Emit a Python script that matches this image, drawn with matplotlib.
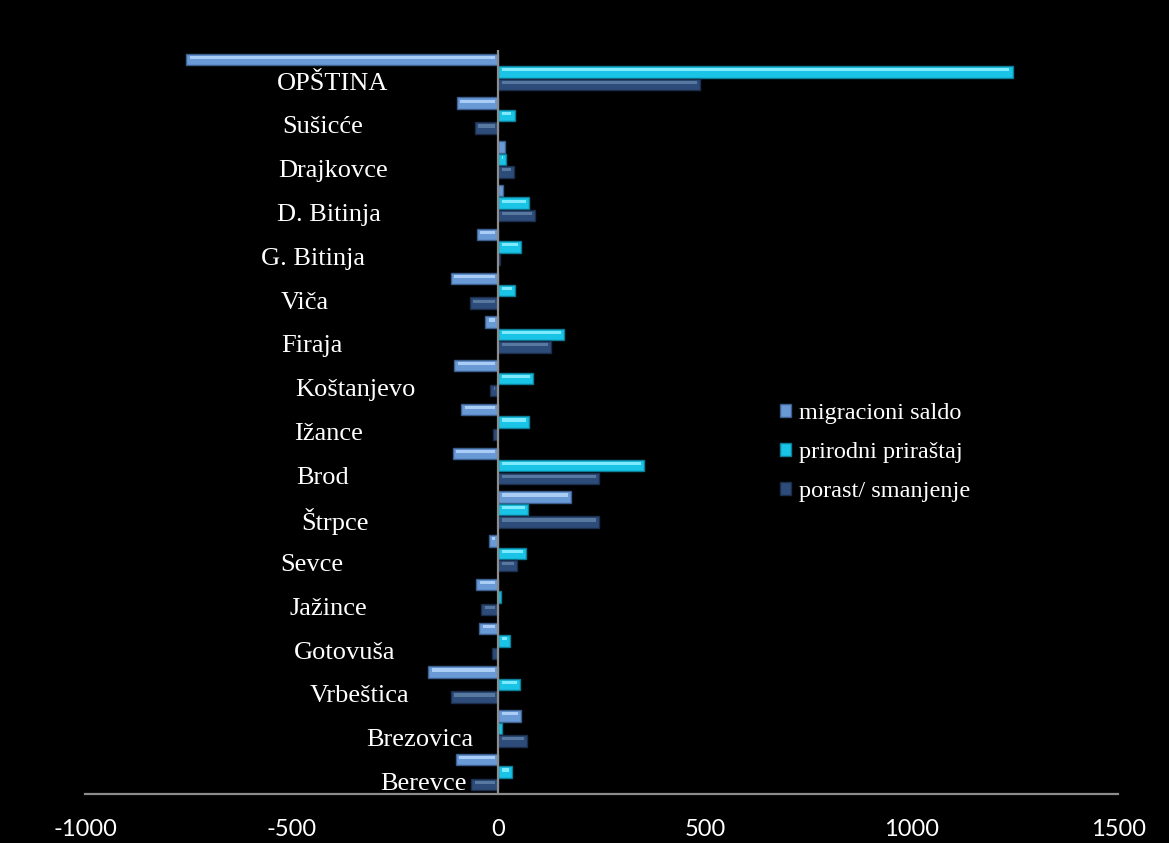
import matplotlib
matplotlib.use("Agg")
import matplotlib.pyplot as plt
from matplotlib.patches import Patch
import numpy as np

categories = ["Berevce", "Brezovica", "Vrbeštica", "Gotovuša", "Jažince", "Sevce",
              "Štrpce", "Brod", "Ižance", "Koštanjevo", "Firaja", "Viča",
              "G. Bitinja", "D. Bitinja", "Drajkovce", "Sušicće", "OPŠTINA"]
migracioni_saldo = [-102, 56, -169, -46, -53, -22, 176, -109, -89, -106, -31, -114, -51, 12, 17, -100, -755]
prirodni_prirastaj = [34, 10, 53, 29, 7, 68, 73, 353, 75, 85, 160, 41, 56, 75, 19, 40, 1245]
porast_smanjenje = [-65, 70, -114, -15, -41, 46, 245, 244, -12, -19, 128, -68, 5, 89, 38, -56, 489]
series_names = ["migracioni saldo", "prirodni priraštaj", "porast/ smanjenje"]
xticks = [-1000, -500, 0, 500, 1000, 1500]

# label placement (data x of label centre)
label_x = [-180, -190, -335, -372, -410, -450, -395, -425, -410, -345, -450, -467, -447, -410, -400, -425, -400]

colors = ["#6a9ad6", "#19c4e6", "#2d4c7a"]
highlights = ["#a9cdf5", "#7eeaff", "#58799f"]
edges = ["#3c5f8f", "#0b7f99", "#1a2d4a"]

fig = plt.figure(figsize=(11.69, 8.43), dpi=100, facecolor="black")
ax = fig.add_axes([0.0727, 0.0581, 0.8837, 0.8826], facecolor="black")

y = np.arange(len(categories))
off = 0.285
h = 0.26
for i, (vals, c, hl, ec) in enumerate(zip([migracioni_saldo, prirodni_prirastaj, porast_smanjenje],
                                          colors, highlights, edges)):
    pos = y + off * (1 - i)
    ax.barh(pos, vals, height=h, color=c, edgecolor=ec, linewidth=1.0, zorder=2)
    vals_arr = np.array(vals, dtype=float)
    inset = np.sign(vals_arr) * np.minimum(np.abs(vals_arr) * 0.5, 8)
    ax.barh(pos + h * 0.18, vals_arr - 2 * inset, left=inset, height=h * 0.28,
            color=hl, linewidth=0, zorder=3)

for yi, (name, lx) in enumerate(zip(categories, label_x)):
    ax.text(lx, yi - 0.27, name, color="white", fontsize=19, family="Liberation Serif",
            ha="center", va="center", zorder=5)

ax.axvline(0, color="#8c8c8c", linewidth=1.6, zorder=4)
ax.set_xlim(-1000, 1500)
ax.set_ylim(-0.5, 16.5)
ax.set_xticks(xticks)
ax.set_xticklabels([str(t) for t in xticks], color="white", fontsize=17,
                   family=["Lato", "DejaVu Sans"])
ax.set_yticks([])
ax.tick_params(axis="x", length=0, pad=18)
for s in ["top", "left", "right"]:
    ax.spines[s].set_visible(False)
ax.spines["bottom"].set_color("#8c8c8c")
ax.spines["bottom"].set_linewidth(1.6)

handles = [Patch(facecolor=c, edgecolor=e) for c, e in zip(colors, edges)]
leg = ax.legend(handles, series_names, loc="upper left", bbox_to_anchor=(0.652, 0.555),
                frameon=False, prop={"family": "Liberation Serif", "size": 17.5},
                labelcolor="white", handlelength=0.45, handleheight=0.45,
                handletextpad=0.3, labelspacing=0.75)

fig.savefig("out.png", dpi=100, facecolor="black")
